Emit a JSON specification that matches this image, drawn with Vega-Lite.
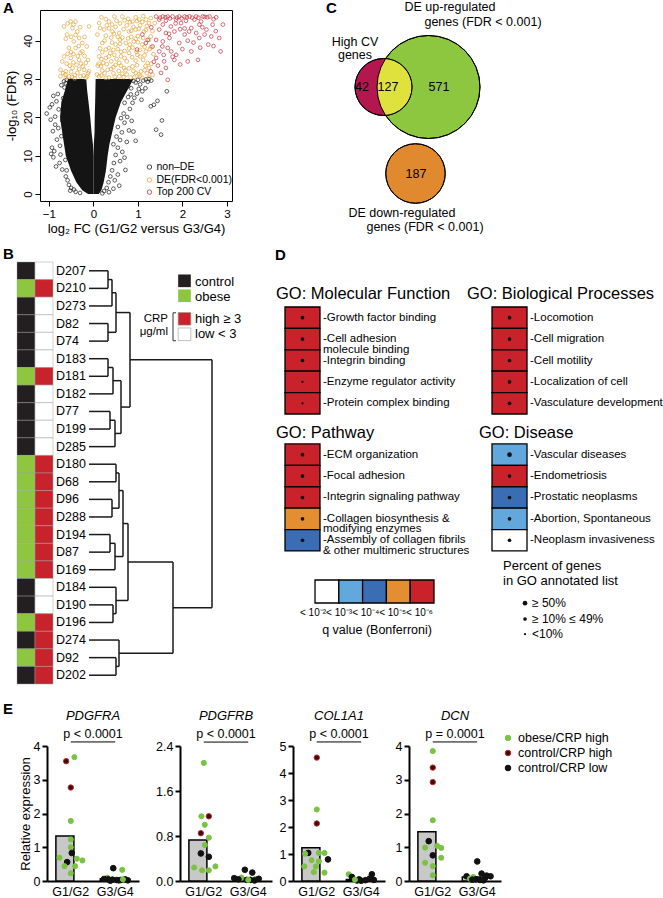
{
"$schema": "https://vega.github.io/schema/vega-lite/v6.json",
"background": "white",
"padding": {"left": 3, "top": 1, "right": 0, "bottom": 0},
"spacing": 10,
"config": {
 "view": {"stroke": null},
 "font": "Liberation Sans",
 "axis": {"grid": false, "labelOverlap": false, "labelColor": "#000", "titleColor": "#000", "domainColor": "#000", "tickColor": "#000", "titleFontWeight": "normal", "labelFont": "Liberation Sans", "titleFont": "Liberation Sans"},
 "text": {"font": "Liberation Sans", "color": "#000"},
 "title": {"font": "Liberation Sans", "subtitleFont": "Liberation Sans", "color": "#000", "subtitleColor": "#000"}
},
"resolve": {"scale": {"color": "independent", "fill": "independent", "stroke": "independent", "size": "independent"}},
"datasets": {
 "mass": [
  {"w":"L","y":0,"a":-0.12,"b":0},{"w":"L","y":1,"a":-0.25,"b":0},{"w":"L","y":3,"a":-0.38,"b":0},{"w":"L","y":6,"a":-0.5,"b":0},{"w":"L","y":10,"a":-0.62,"b":0},{"w":"L","y":13,"a":-0.66,"b":-0.01},{"w":"L","y":16,"a":-0.7,"b":-0.04},{"w":"L","y":20,"a":-0.75,"b":-0.07},{"w":"L","y":24,"a":-0.72,"b":-0.11},{"w":"L","y":27,"a":-0.64,"b":-0.14},{"w":"L","y":30,"a":-0.57,"b":-0.16},
  {"w":"R","y":0,"a":0,"b":0.12},{"w":"R","y":1,"a":0,"b":0.18},{"w":"R","y":3,"a":0,"b":0.23},{"w":"R","y":6,"a":0,"b":0.28},{"w":"R","y":10,"a":0,"b":0.32},{"w":"R","y":13,"a":0.01,"b":0.36},{"w":"R","y":16,"a":0.025,"b":0.42},{"w":"R","y":20,"a":0.03,"b":0.5},{"w":"R","y":24,"a":0.04,"b":0.62},{"w":"R","y":27,"a":0.045,"b":0.76},{"w":"R","y":30,"a":0.05,"b":0.9}
 ],
 "volc": [
  {"x":-1.05,"y":21,"g":"n"},{"x":-0.98,"y":22.6,"g":"n"},{"x":-0.96,"y":19.4,"g":"n"},{"x":-0.93,"y":23.4,"g":"n"},{"x":-0.9,"y":25.6,"g":"n"},{"x":-0.91,"y":16.4,"g":"n"},{"x":-0.93,"y":12.1,"g":"n"},{"x":-0.88,"y":11.2,"g":"n"},{"x":-0.9,"y":9.6,"g":"n"},{"x":-0.82,"y":14.2,"g":"n"},{"x":-0.86,"y":20.2,"g":"n"},{"x":-0.8,"y":26.1,"g":"n"},{"x":-0.76,"y":8.1,"g":"n"},{"x":-0.72,"y":28.4,"g":"n"},{"x":-0.7,"y":6.4,"g":"n"},{"x":-0.66,"y":29.4,"g":"n"},{"x":-0.62,"y":4.6,"g":"n"},{"x":-0.55,"y":2.4,"g":"n"},{"x":-0.5,"y":1.6,"g":"n"},{"x":-0.44,"y":1.2,"g":"n"},{"x":-0.86,"y":18.1,"g":"n"},{"x":-0.83,"y":24.2,"g":"n"},{"x":-0.79,"y":17.2,"g":"n"},{"x":-0.75,"y":12.6,"g":"n"},{"x":-0.78,"y":22.1,"g":"n"},{"x":-0.74,"y":10.3,"g":"n"},{"x":-0.72,"y":15.1,"g":"n"},{"x":-0.7,"y":19.2,"g":"n"},{"x":-0.68,"y":25,"g":"n"},{"x":-0.65,"y":27.8,"g":"n"},{"x":-0.63,"y":8.9,"g":"n"},{"x":-0.6,"y":6.2,"g":"n"},{"x":-0.58,"y":3.6,"g":"n"},{"x":-0.52,"y":0.9,"g":"n"},{"x":-0.4,"y":0.6,"g":"n"},{"x":-0.3,"y":0.3,"g":"n"},{"x":-0.6,"y":29.8,"g":"n"},{"x":-0.55,"y":28.5,"g":"n"},{"x":-0.95,"y":10.5,"g":"n"},{"x":-0.84,"y":7.2,"g":"n"},{"x":-0.5,"y":29.6,"g":"n"},{"x":-0.62,"y":28.9,"g":"n"},
  {"x":0.3,"y":27.2,"g":"n"},{"x":0.38,"y":28.3,"g":"n"},{"x":0.5,"y":29.6,"g":"n"},{"x":0.62,"y":28.6,"g":"n"},{"x":0.72,"y":29.2,"g":"n"},{"x":0.85,"y":27.6,"g":"n"},{"x":0.95,"y":29.1,"g":"n"},{"x":1.05,"y":28.6,"g":"n"},{"x":1.1,"y":26.8,"g":"n"},{"x":1.18,"y":29.9,"g":"n"},{"x":1.22,"y":29.3,"g":"n"},{"x":1.0,"y":29.8,"g":"n"},{"x":0.92,"y":25.1,"g":"n"},{"x":0.82,"y":22.2,"g":"n"},{"x":0.76,"y":20.1,"g":"n"},{"x":0.7,"y":18.6,"g":"n"},{"x":0.64,"y":16.1,"g":"n"},{"x":0.6,"y":14.1,"g":"n"},{"x":0.55,"y":12.1,"g":"n"},{"x":0.5,"y":10.2,"g":"n"},{"x":0.46,"y":8.1,"g":"n"},{"x":0.42,"y":6.2,"g":"n"},{"x":0.38,"y":4.6,"g":"n"},{"x":0.34,"y":3.1,"g":"n"},{"x":0.3,"y":1.6,"g":"n"},{"x":0.24,"y":0.8,"g":"n"},{"x":0.72,"y":6.3,"g":"n"},{"x":0.6,"y":8.6,"g":"n"},{"x":0.55,"y":5.1,"g":"n"},{"x":0.48,"y":3.6,"g":"n"},{"x":0.75,"y":13.6,"g":"n"},{"x":0.8,"y":16.6,"g":"n"},{"x":0.9,"y":16.3,"g":"n"},{"x":0.95,"y":13.9,"g":"n"},{"x":0.86,"y":19.1,"g":"n"},{"x":1.17,"y":27.6,"g":"n"},{"x":1.29,"y":22.9,"g":"n"},{"x":1.36,"y":23.3,"g":"n"},{"x":1.44,"y":24.3,"g":"n"},{"x":1.41,"y":16.8,"g":"n"},{"x":1.52,"y":15.5,"g":"n"},{"x":1.54,"y":19.2,"g":"n"},{"x":1.65,"y":26.8,"g":"n"},{"x":0.7,"y":23.8,"g":"n"},{"x":0.78,"y":25.3,"g":"n"},{"x":0.88,"y":23.8,"g":"n"},{"x":0.98,"y":26.2,"g":"n"},{"x":1.08,"y":24.6,"g":"n"},{"x":0.65,"y":11,"g":"n"},{"x":0.7,"y":9.5,"g":"n"},{"x":0.58,"y":2.2,"g":"n"},{"x":0.45,"y":1.4,"g":"n"},{"x":0.35,"y":0.5,"g":"n"},{"x":0.2,"y":0.2,"g":"n"},{"x":0.68,"y":21,"g":"n"},{"x":0.62,"y":19.8,"g":"n"},{"x":0.55,"y":17.5,"g":"n"},{"x":0.52,"y":15,"g":"n"},{"x":0.45,"y":13,"g":"n"},{"x":0.9,"y":29.5,"g":"n"},{"x":1.12,"y":29.6,"g":"n"},{"x":1.25,"y":30.0,"g":"n"},{"x":0.78,"y":28.1,"g":"n"},{"x":0.66,"y":27.4,"g":"n"},{"x":1.3,"y":29.6,"g":"n"},{"x":1.02,"y":27.4,"g":"n"},{"x":0.84,"y":26.0,"g":"n"},
  {"x":-0.66,"y":43.7,"g":"d"},{"x":-0.59,"y":41.6,"g":"d"},{"x":-0.51,"y":45,"g":"d"},{"x":-0.4,"y":45,"g":"d"},{"x":-0.36,"y":42.4,"g":"d"},{"x":-0.32,"y":40.7,"g":"d"},{"x":-0.55,"y":38.1,"g":"d"},{"x":-0.4,"y":38.1,"g":"d"},{"x":-0.25,"y":37.2,"g":"d"},{"x":-0.66,"y":35.9,"g":"d"},{"x":-0.51,"y":35.5,"g":"d"},{"x":-0.32,"y":35,"g":"d"},{"x":-0.74,"y":32.4,"g":"d"},{"x":-0.62,"y":32,"g":"d"},{"x":-0.47,"y":32.9,"g":"d"},{"x":-0.36,"y":31.6,"g":"d"},{"x":-0.21,"y":32.4,"g":"d"},{"x":-0.17,"y":34.2,"g":"d"},{"x":-0.25,"y":39.4,"g":"d"},{"x":-0.44,"y":39.8,"g":"d"},{"x":-0.29,"y":30.7,"g":"d"},{"x":-0.55,"y":30.7,"g":"d"},{"x":-0.74,"y":30.7,"g":"d"},{"x":-0.14,"y":30.7,"g":"d"},{"x":-0.47,"y":43.3,"g":"d"},{"x":-0.29,"y":36.8,"g":"d"},{"x":-0.38,"y":33.7,"g":"d"},{"x":-0.1,"y":32,"g":"d"},{"x":-0.17,"y":30.3,"g":"d"},{"x":-0.6,"y":34,"g":"d"},{"x":-0.45,"y":36.5,"g":"d"},{"x":-0.28,"y":34,"g":"d"},{"x":-0.2,"y":36,"g":"d"},{"x":-0.42,"y":31,"g":"d"},{"x":-0.63,"y":31.2,"g":"d"},{"x":-0.33,"y":38.6,"g":"d"},{"x":-0.5,"y":41,"g":"d"},{"x":-0.1,"y":43.7,"g":"d"},{"x":-0.12,"y":35,"g":"d"},
  {"x":-0.58,"y":44.5,"g":"d"},{"x":-0.45,"y":44.2,"g":"d"},{"x":-0.3,"y":43.5,"g":"d"},{"x":-0.62,"y":40.5,"g":"d"},{"x":-0.4,"y":41.5,"g":"d"},{"x":-0.2,"y":41,"g":"d"},{"x":-0.15,"y":38.5,"g":"d"},{"x":-0.5,"y":37,"g":"d"},{"x":-0.35,"y":36,"g":"d"},{"x":-0.58,"y":36.6,"g":"d"},{"x":-0.7,"y":34.6,"g":"d"},{"x":-0.45,"y":34.3,"g":"d"},{"x":-0.24,"y":33.3,"g":"d"},{"x":-0.53,"y":33.5,"g":"d"},{"x":-0.68,"y":31.5,"g":"d"},{"x":-0.5,"y":31.9,"g":"d"},{"x":-0.32,"y":32.6,"g":"d"},{"x":-0.22,"y":30.9,"g":"d"},{"x":-0.12,"y":31.5,"g":"d"},{"x":-0.62,"y":30.3,"g":"d"},{"x":-0.42,"y":30.2,"g":"d"},{"x":-0.48,"y":30.6,"g":"d"},
  {"x":0.13,"y":44.6,"g":"d"},{"x":0.35,"y":45,"g":"d"},{"x":0.47,"y":46.3,"g":"d"},{"x":0.65,"y":46.3,"g":"d"},{"x":0.88,"y":45,"g":"d"},{"x":1.03,"y":45.5,"g":"d"},{"x":1.18,"y":45.5,"g":"d"},{"x":1.29,"y":45.9,"g":"d"},{"x":0.24,"y":42.9,"g":"d"},{"x":0.43,"y":42.4,"g":"d"},{"x":0.58,"y":42,"g":"d"},{"x":0.8,"y":42.4,"g":"d"},{"x":0.95,"y":42.9,"g":"d"},{"x":1.14,"y":42.4,"g":"d"},{"x":1.29,"y":41.1,"g":"d"},{"x":0.2,"y":39.4,"g":"d"},{"x":0.35,"y":38.1,"g":"d"},{"x":0.5,"y":39,"g":"d"},{"x":0.73,"y":39.4,"g":"d"},{"x":0.91,"y":39.8,"g":"d"},{"x":1.1,"y":39,"g":"d"},{"x":0.13,"y":35.9,"g":"d"},{"x":0.28,"y":35.5,"g":"d"},{"x":0.47,"y":36.3,"g":"d"},{"x":0.62,"y":35.9,"g":"d"},{"x":0.8,"y":36.8,"g":"d"},{"x":0.99,"y":36.3,"g":"d"},{"x":1.18,"y":37.2,"g":"d"},{"x":0.17,"y":33.3,"g":"d"},{"x":0.32,"y":32.4,"g":"d"},{"x":0.5,"y":33.7,"g":"d"},{"x":0.69,"y":32.9,"g":"d"},{"x":0.88,"y":33.3,"g":"d"},{"x":1.07,"y":32,"g":"d"},{"x":1.25,"y":32.9,"g":"d"},{"x":0.13,"y":30.7,"g":"d"},{"x":0.35,"y":30.4,"g":"d"},{"x":0.58,"y":30.7,"g":"d"},{"x":0.84,"y":30.4,"g":"d"},{"x":1.1,"y":30.3,"g":"d"},{"x":1.33,"y":31.1,"g":"d"},{"x":0.09,"y":41.6,"g":"d"},{"x":0.6,"y":44.5,"g":"d"},{"x":0.75,"y":44,"g":"d"},{"x":0.9,"y":43.6,"g":"d"},{"x":1.05,"y":44,"g":"d"},{"x":1.2,"y":43.8,"g":"d"},{"x":0.4,"y":40.8,"g":"d"},{"x":0.65,"y":40.8,"g":"d"},{"x":0.85,"y":41,"g":"d"},{"x":1.0,"y":41.2,"g":"d"},{"x":0.28,"y":37.7,"g":"d"},{"x":0.55,"y":37.8,"g":"d"},{"x":0.7,"y":37.3,"g":"d"},{"x":0.88,"y":38.2,"g":"d"},{"x":1.05,"y":37.6,"g":"d"},{"x":0.22,"y":34.2,"g":"d"},{"x":0.4,"y":34.6,"g":"d"},{"x":0.58,"y":34.2,"g":"d"},{"x":0.75,"y":34.6,"g":"d"},{"x":0.95,"y":34.8,"g":"d"},{"x":1.12,"y":35,"g":"d"},{"x":0.25,"y":31.5,"g":"d"},{"x":0.45,"y":31.5,"g":"d"},{"x":0.65,"y":31.4,"g":"d"},{"x":0.75,"y":31.2,"g":"d"},{"x":0.95,"y":31.6,"g":"d"},{"x":1.2,"y":31.5,"g":"d"},{"x":0.1,"y":33.5,"g":"d"},{"x":0.08,"y":31.2,"g":"d"},{"x":0.3,"y":44,"g":"d"},{"x":1.12,"y":46.4,"g":"d"},{"x":0.95,"y":46.1,"g":"d"},{"x":0.38,"y":36.8,"g":"d"},{"x":0.15,"y":38,"g":"d"},{"x":1.22,"y":34.2,"g":"d"},{"x":1.3,"y":38.3,"g":"d"},{"x":1.38,"y":44.6,"g":"d"},{"x":1.25,"y":40.2,"g":"d"},{"x":0.55,"y":41,"g":"d"},{"x":0.78,"y":45.7,"g":"d"},
  {"x":0.18,"y":46.1,"g":"d"},{"x":0.28,"y":45.6,"g":"d"},{"x":0.42,"y":44.2,"g":"d"},{"x":0.52,"y":45.2,"g":"d"},{"x":0.7,"y":45.3,"g":"d"},{"x":0.82,"y":44.8,"g":"d"},{"x":0.98,"y":45.1,"g":"d"},{"x":1.1,"y":44.9,"g":"d"},{"x":1.25,"y":44.6,"g":"d"},{"x":0.15,"y":43.3,"g":"d"},{"x":0.35,"y":43.2,"g":"d"},{"x":0.5,"y":43.6,"g":"d"},{"x":0.68,"y":43,"g":"d"},{"x":0.85,"y":42.6,"g":"d"},{"x":1.02,"y":43.1,"g":"d"},{"x":1.18,"y":42.8,"g":"d"},{"x":0.28,"y":41.3,"g":"d"},{"x":0.46,"y":41.8,"g":"d"},{"x":0.6,"y":40.3,"g":"d"},{"x":0.78,"y":40.6,"g":"d"},{"x":0.95,"y":40.5,"g":"d"},{"x":1.12,"y":40.7,"g":"d"},{"x":0.25,"y":40,"g":"d"},{"x":0.42,"y":39.5,"g":"d"},{"x":0.6,"y":39.2,"g":"d"},{"x":0.82,"y":39,"g":"d"},{"x":1.0,"y":39.6,"g":"d"},{"x":1.15,"y":38.4,"g":"d"},{"x":0.2,"y":37,"g":"d"},{"x":0.45,"y":37.6,"g":"d"},{"x":0.62,"y":37.1,"g":"d"},{"x":0.8,"y":38,"g":"d"},{"x":0.97,"y":37.1,"g":"d"},{"x":1.15,"y":36.2,"g":"d"},{"x":0.18,"y":35.2,"g":"d"},{"x":0.35,"y":35.9,"g":"d"},{"x":0.52,"y":35.2,"g":"d"},{"x":0.7,"y":35.5,"g":"d"},{"x":0.87,"y":35.7,"g":"d"},{"x":1.05,"y":35.9,"g":"d"},{"x":0.12,"y":34,"g":"d"},{"x":0.3,"y":33.9,"g":"d"},{"x":0.45,"y":33.1,"g":"d"},{"x":0.62,"y":33.5,"g":"d"},{"x":0.8,"y":32.8,"g":"d"},{"x":0.98,"y":33.6,"g":"d"},{"x":1.17,"y":33.4,"g":"d"},{"x":0.2,"y":32.2,"g":"d"},{"x":0.4,"y":32.6,"g":"d"},{"x":0.57,"y":32.1,"g":"d"},{"x":0.72,"y":32.3,"g":"d"},{"x":0.9,"y":32.1,"g":"d"},{"x":1.02,"y":31.2,"g":"d"},{"x":1.15,"y":32.3,"g":"d"},{"x":0.18,"y":30.9,"g":"d"},{"x":0.28,"y":30.3,"g":"d"},{"x":0.48,"y":30.6,"g":"d"},{"x":0.68,"y":30.5,"g":"d"},{"x":0.92,"y":30.5,"g":"d"},{"x":1.05,"y":30.8,"g":"d"},{"x":1.25,"y":30.4,"g":"d"},{"x":1.3,"y":34,"g":"d"},{"x":1.35,"y":36.5,"g":"d"},{"x":1.27,"y":37.8,"g":"d"},{"x":1.33,"y":42.5,"g":"d"},
  {"x":1.41,"y":46.3,"g":"t"},{"x":1.56,"y":46.3,"g":"t"},{"x":1.67,"y":46.3,"g":"t"},{"x":1.78,"y":46.3,"g":"t"},{"x":1.93,"y":46.3,"g":"t"},{"x":2.05,"y":46.3,"g":"t"},{"x":2.16,"y":46.3,"g":"t"},{"x":2.31,"y":46.3,"g":"t"},{"x":2.46,"y":46.3,"g":"t"},{"x":2.61,"y":46.3,"g":"t"},{"x":2.76,"y":46.1,"g":"t"},{"x":1.48,"y":45.5,"g":"t"},{"x":1.63,"y":45.2,"g":"t"},{"x":1.86,"y":45.5,"g":"t"},{"x":2.08,"y":45.2,"g":"t"},{"x":2.27,"y":45.5,"g":"t"},{"x":2.42,"y":45,"g":"t"},{"x":1.56,"y":44.2,"g":"t"},{"x":1.74,"y":43.7,"g":"t"},{"x":1.97,"y":44.6,"g":"t"},{"x":2.2,"y":43.3,"g":"t"},{"x":2.38,"y":44.2,"g":"t"},{"x":2.68,"y":44.2,"g":"t"},{"x":2.91,"y":44.2,"g":"t"},{"x":1.48,"y":42.9,"g":"t"},{"x":1.63,"y":42,"g":"t"},{"x":1.82,"y":42.4,"g":"t"},{"x":2.05,"y":41.6,"g":"t"},{"x":2.31,"y":42,"g":"t"},{"x":2.54,"y":42.9,"g":"t"},{"x":2.83,"y":40.7,"g":"t"},{"x":1.41,"y":40.2,"g":"t"},{"x":1.56,"y":39.8,"g":"t"},{"x":1.71,"y":40.7,"g":"t"},{"x":1.93,"y":39.4,"g":"t"},{"x":2.12,"y":40,"g":"t"},{"x":2.38,"y":40.7,"g":"t"},{"x":2.65,"y":41.1,"g":"t"},{"x":1.33,"y":38.5,"g":"t"},{"x":1.48,"y":37.2,"g":"t"},{"x":1.67,"y":38.1,"g":"t"},{"x":1.86,"y":36.3,"g":"t"},{"x":2.2,"y":37.2,"g":"t"},{"x":2.58,"y":39,"g":"t"},{"x":2.86,"y":37.2,"g":"t"},{"x":1.41,"y":35.5,"g":"t"},{"x":1.59,"y":34.6,"g":"t"},{"x":1.82,"y":35,"g":"t"},{"x":2.12,"y":34.6,"g":"t"},{"x":1.63,"y":32.9,"g":"t"},{"x":1.29,"y":32,"g":"t"},{"x":1.52,"y":31.6,"g":"t"},{"x":1.67,"y":29.8,"g":"t"},{"x":1.78,"y":35.8,"g":"t"},{"x":1.18,"y":39.4,"g":"t"},{"x":1.1,"y":41.6,"g":"t"},{"x":1.22,"y":40.2,"g":"t"},{"x":1.3,"y":43.5,"g":"t"},{"x":1.72,"y":45.8,"g":"t"},{"x":1.98,"y":45.8,"g":"t"},{"x":2.22,"y":46,"g":"t"},{"x":2.5,"y":46.2,"g":"t"},{"x":1.85,"y":44.5,"g":"t"},{"x":2.05,"y":43.2,"g":"t"},{"x":2.45,"y":43.5,"g":"t"},{"x":1.7,"y":41.8,"g":"t"},{"x":2.25,"y":39.5,"g":"t"},{"x":1.36,"y":34.5,"g":"t"},{"x":2.35,"y":35,"g":"t"},{"x":0.98,"y":37.7,"g":"t"},
  {"x":1.5,"y":46.0,"g":"t"},{"x":1.62,"y":46.1,"g":"t"},{"x":1.88,"y":46.0,"g":"t"},{"x":2.1,"y":46.1,"g":"t"},{"x":2.36,"y":46.0,"g":"t"},{"x":2.56,"y":46.1,"g":"t"},{"x":2.7,"y":45.6,"g":"t"},{"x":1.95,"y":43,"g":"t"},{"x":2.15,"y":42.4,"g":"t"},{"x":2.5,"y":41.6,"g":"t"},{"x":2.75,"y":42.5,"g":"t"},{"x":1.55,"y":38.5,"g":"t"},{"x":1.75,"y":37.2,"g":"t"},{"x":2.0,"y":37.8,"g":"t"},{"x":2.4,"y":38.2,"g":"t"},{"x":1.45,"y":33.5,"g":"t"},{"x":1.95,"y":33.8,"g":"t"},{"x":1.58,"y":36.3,"g":"t"},{"x":2.7,"y":38.6,"g":"t"}
 ],
 "venn": [
  {"set":"up","n":698,"cx":12.85,"cy":7.7},
  {"set":"cv","n":169,"cx":8.35,"cy":7.7},
  {"set":"down","n":187,"cx":11.55,"cy":16.35}
 ],
 "vtext": [
  {"t":"42","x":6.2,"y":7.7},{"t":"127","x":8.8,"y":7.7},{"t":"571","x":13.9,"y":7.7},{"t":"187","x":11.6,"y":16.35},
  {"t":"DE up-regulated","x":15.0,"y":-0.3},{"t":"genes (FDR < 0.001)","x":18.3,"y":1.2},
  {"t":"High CV","x":5.5,"y":3.22},{"t":"genes","x":5.5,"y":4.48},
  {"t":"DE down-regulated","x":10.2,"y":20.3},{"t":"genes (FDR < 0.001)","x":12.5,"y":21.7}
 ],
 "samples": [
  {"id":"D207","i":0,"grp":"control","crp":"low"},{"id":"D210","i":1,"grp":"obese","crp":"high"},{"id":"D273","i":2,"grp":"control","crp":"low"},{"id":"D82","i":3,"grp":"control","crp":"low"},{"id":"D74","i":4,"grp":"control","crp":"low"},{"id":"D183","i":5,"grp":"control","crp":"low"},{"id":"D181","i":6,"grp":"obese","crp":"high"},{"id":"D182","i":7,"grp":"control","crp":"low"},{"id":"D77","i":8,"grp":"control","crp":"low"},{"id":"D199","i":9,"grp":"control","crp":"low"},{"id":"D285","i":10,"grp":"control","crp":"low"},{"id":"D180","i":11,"grp":"obese","crp":"high"},{"id":"D68","i":12,"grp":"obese","crp":"high"},{"id":"D96","i":13,"grp":"obese","crp":"high"},{"id":"D288","i":14,"grp":"obese","crp":"high"},{"id":"D194","i":15,"grp":"obese","crp":"high"},{"id":"D87","i":16,"grp":"obese","crp":"high"},{"id":"D169","i":17,"grp":"obese","crp":"high"},{"id":"D184","i":18,"grp":"control","crp":"low"},{"id":"D190","i":19,"grp":"control","crp":"low"},{"id":"D196","i":20,"grp":"obese","crp":"high"},{"id":"D274","i":21,"grp":"control","crp":"high"},{"id":"D92","i":22,"grp":"obese","crp":"high"},{"id":"D202","i":23,"grp":"control","crp":"high"}
 ],
 "dnodes": [
  {"h":91,"a":0,"b":1},{"h":95,"a":0.5,"b":2},{"h":91,"a":3,"b":4},{"h":99,"a":1.25,"b":3.5},{"h":91,"a":5,"b":6},{"h":96,"a":5.5,"b":7},{"h":93,"a":8,"b":9},{"h":98,"a":8.5,"b":10},{"h":104,"a":6.25,"b":9.25},{"h":113,"a":2.375,"b":7.75},
  {"h":99,"a":11,"b":12},{"h":95,"a":13,"b":14},{"h":102,"a":11.5,"b":13.5},{"h":93,"a":15,"b":16},{"h":98,"a":15.5,"b":17},{"h":106,"a":12.5,"b":16.25},{"h":96,"a":19,"b":20},{"h":99,"a":18,"b":19.5},{"h":111,"a":14.375,"b":18.75},{"h":99,"a":22,"b":23},{"h":102,"a":21,"b":22.5},{"h":156,"a":16.56,"b":21.75},{"h":195,"a":5.06,"b":19.16}
 ],
 "dedges": [
  {"c":72,"p":91,"y":0},{"c":72,"p":91,"y":1},{"c":72,"p":95,"y":2},{"c":72,"p":91,"y":3},{"c":72,"p":91,"y":4},{"c":72,"p":91,"y":5},{"c":72,"p":91,"y":6},{"c":72,"p":96,"y":7},{"c":72,"p":93,"y":8},{"c":72,"p":93,"y":9},{"c":72,"p":98,"y":10},{"c":72,"p":99,"y":11},{"c":72,"p":99,"y":12},{"c":72,"p":95,"y":13},{"c":72,"p":95,"y":14},{"c":72,"p":93,"y":15},{"c":72,"p":93,"y":16},{"c":72,"p":98,"y":17},{"c":72,"p":99,"y":18},{"c":72,"p":96,"y":19},{"c":72,"p":96,"y":20},{"c":72,"p":102,"y":21},{"c":72,"p":99,"y":22},{"c":72,"p":99,"y":23},
  {"c":91,"p":95,"y":0.5},{"c":91,"p":99,"y":3.5},{"c":95,"p":99,"y":1.25},{"c":91,"p":96,"y":5.5},{"c":93,"p":98,"y":8.5},{"c":96,"p":104,"y":6.25},{"c":98,"p":104,"y":9.25},{"c":99,"p":113,"y":2.375},{"c":104,"p":113,"y":7.75},{"c":113,"p":195,"y":5.06},
  {"c":99,"p":102,"y":11.5},{"c":95,"p":102,"y":13.5},{"c":93,"p":98,"y":15.5},{"c":102,"p":106,"y":12.5},{"c":98,"p":106,"y":16.25},{"c":96,"p":99,"y":19.5},{"c":106,"p":111,"y":14.375},{"c":99,"p":111,"y":18.75},{"c":99,"p":102,"y":22.5},{"c":111,"p":156,"y":16.56},{"c":102,"p":156,"y":21.75},{"c":156,"p":195,"y":19.16}
 ],
 "go": [
  {"panel":"MF","term":"-Growth factor binding","col":0,"slot":0,"q":"q6","pct":"m"},
  {"panel":"MF","term":"-Cell adhesion\n\u00a0\u00a0\u00a0\u00a0\u00a0molecule binding","col":0,"slot":1,"q":"q6","pct":"m"},
  {"panel":"MF","term":"-Integrin binding","col":0,"slot":2,"q":"q6","pct":"m"},
  {"panel":"MF","term":"-Enzyme regulator activity","col":0,"slot":3,"q":"q6","pct":"s"},
  {"panel":"MF","term":"-Protein complex binding","col":0,"slot":4,"q":"q6","pct":"s"},
  {"panel":"BP","term":"-Locomotion","col":1,"slot":0,"q":"q6","pct":"m"},
  {"panel":"BP","term":"-Cell migration","col":1,"slot":1,"q":"q6","pct":"m"},
  {"panel":"BP","term":"-Cell motility","col":1,"slot":2,"q":"q6","pct":"m"},
  {"panel":"BP","term":"-Localization of cell","col":1,"slot":3,"q":"q6","pct":"m"},
  {"panel":"BP","term":"-Vasculature development","col":1,"slot":4,"q":"q6","pct":"m"},
  {"panel":"PW","term":"-ECM organization","col":0,"slot":6.4,"q":"q6","pct":"m"},
  {"panel":"PW","term":"-Focal adhesion","col":0,"slot":7.4,"q":"q6","pct":"m"},
  {"panel":"PW","term":"-Integrin signaling pathway","col":0,"slot":8.4,"q":"q6","pct":"m"},
  {"panel":"PW","term":"-Collagen biosynthesis &\n\u00a0\u00a0\u00a0\u00a0modifying enzymes","col":0,"slot":9.4,"q":"q5","pct":"m"},
  {"panel":"PW","term":"-Assembly of collagen fibrils\n\u00a0\u00a0\u00a0& other multimeric structures","col":0,"slot":10.4,"q":"q4","pct":"m"},
  {"panel":"DS","term":"-Vascular diseases","col":1,"slot":6.4,"q":"q3","pct":"l"},
  {"panel":"DS","term":"-Endometriosis","col":1,"slot":7.4,"q":"q6","pct":"m"},
  {"panel":"DS","term":"-Prostatic neoplasms","col":1,"slot":8.4,"q":"q4","pct":"m"},
  {"panel":"DS","term":"-Abortion, Spontaneous","col":1,"slot":9.4,"q":"q3","pct":"m"},
  {"panel":"DS","term":"-Neoplasm invasiveness","col":1,"slot":10.4,"q":"q2","pct":"m"}
 ],
 "expr": [
  {"gene":"PDGFRA","grp":"G1/G2","cat":"h","v":3.55,"j":-0.33},{"gene":"PDGFRA","grp":"G1/G2","cat":"o","v":3.67,"j":0.26},{"gene":"PDGFRA","grp":"G1/G2","cat":"h","v":2.77,"j":0},{"gene":"PDGFRA","grp":"G1/G2","cat":"o","v":1.78,"j":0},{"gene":"PDGFRA","grp":"G1/G2","cat":"o","v":1.23,"j":0},{"gene":"PDGFRA","grp":"G1/G2","cat":"o","v":1.0,"j":0},{"gene":"PDGFRA","grp":"G1/G2","cat":"l","v":0.83,"j":0.07},{"gene":"PDGFRA","grp":"G1/G2","cat":"o","v":0.69,"j":-0.81},{"gene":"PDGFRA","grp":"G1/G2","cat":"o","v":0.66,"j":0.43},{"gene":"PDGFRA","grp":"G1/G2","cat":"o","v":0.61,"j":0.83},{"gene":"PDGFRA","grp":"G1/G2","cat":"l","v":0.56,"j":-0.26},{"gene":"PDGFRA","grp":"G1/G2","cat":"o","v":0.44,"j":-0.45},{"gene":"PDGFRA","grp":"G1/G2","cat":"o","v":0.44,"j":0.31},{"gene":"PDGFRA","grp":"G1/G2","cat":"o","v":0.23,"j":0},
  {"gene":"PDGFRA","grp":"G3/G4","cat":"l","v":0.38,"j":-0.14},{"gene":"PDGFRA","grp":"G3/G4","cat":"o","v":0.33,"j":0.5},{"gene":"PDGFRA","grp":"G3/G4","cat":"o","v":0.1,"j":-0.57},{"gene":"PDGFRA","grp":"G3/G4","cat":"l","v":0.06,"j":-0.8},{"gene":"PDGFRA","grp":"G3/G4","cat":"l","v":0.05,"j":-0.5},{"gene":"PDGFRA","grp":"G3/G4","cat":"l","v":0.04,"j":-0.2},{"gene":"PDGFRA","grp":"G3/G4","cat":"l","v":0.03,"j":0.1},{"gene":"PDGFRA","grp":"G3/G4","cat":"l","v":0.03,"j":0.4},{"gene":"PDGFRA","grp":"G3/G4","cat":"l","v":0.05,"j":0.7},{"gene":"PDGFRA","grp":"G3/G4","cat":"l","v":0.02,"j":0.9},{"gene":"PDGFRA","grp":"G3/G4","cat":"l","v":0.01,"j":-0.35},{"gene":"PDGFRA","grp":"G3/G4","cat":"l","v":0.02,"j":0.25},{"gene":"PDGFRA","grp":"G3/G4","cat":"o","v":0.05,"j":0.55},
  {"gene":"PDGFRB","grp":"G1/G2","cat":"o","v":2.1,"j":0},{"gene":"PDGFRB","grp":"G1/G2","cat":"o","v":1.15,"j":-0.17},{"gene":"PDGFRB","grp":"G1/G2","cat":"h","v":1.15,"j":0.36},{"gene":"PDGFRB","grp":"G1/G2","cat":"o","v":1.0,"j":0.07},{"gene":"PDGFRB","grp":"G1/G2","cat":"h","v":0.85,"j":-0.21},{"gene":"PDGFRB","grp":"G1/G2","cat":"o","v":0.77,"j":0.36},{"gene":"PDGFRB","grp":"G1/G2","cat":"o","v":0.64,"j":0.07},{"gene":"PDGFRB","grp":"G1/G2","cat":"l","v":0.49,"j":-0.21},{"gene":"PDGFRB","grp":"G1/G2","cat":"l","v":0.43,"j":0.36},{"gene":"PDGFRB","grp":"G1/G2","cat":"o","v":0.24,"j":-0.69},{"gene":"PDGFRB","grp":"G1/G2","cat":"o","v":0.26,"j":0.83},{"gene":"PDGFRB","grp":"G1/G2","cat":"o","v":0.19,"j":-0.12},{"gene":"PDGFRB","grp":"G1/G2","cat":"o","v":0.19,"j":0.36},
  {"gene":"PDGFRB","grp":"G3/G4","cat":"l","v":0.2,"j":-0.24},{"gene":"PDGFRB","grp":"G3/G4","cat":"l","v":0.15,"j":0.29},{"gene":"PDGFRB","grp":"G3/G4","cat":"o","v":0.06,"j":-0.48},{"gene":"PDGFRB","grp":"G3/G4","cat":"o","v":0.04,"j":0.52},{"gene":"PDGFRB","grp":"G3/G4","cat":"l","v":0.05,"j":-1.0},{"gene":"PDGFRB","grp":"G3/G4","cat":"l","v":0.03,"j":-0.7},{"gene":"PDGFRB","grp":"G3/G4","cat":"l","v":0.02,"j":-0.1},{"gene":"PDGFRB","grp":"G3/G4","cat":"l","v":0.02,"j":0.15},{"gene":"PDGFRB","grp":"G3/G4","cat":"l","v":0.04,"j":0.75},{"gene":"PDGFRB","grp":"G3/G4","cat":"l","v":0.01,"j":0.45},{"gene":"PDGFRB","grp":"G3/G4","cat":"o","v":0.02,"j":0},
  {"gene":"COL1A1","grp":"G1/G2","cat":"h","v":4.57,"j":0},{"gene":"COL1A1","grp":"G1/G2","cat":"o","v":2.65,"j":0},{"gene":"COL1A1","grp":"G1/G2","cat":"h","v":2.13,"j":0},{"gene":"COL1A1","grp":"G1/G2","cat":"l","v":1.04,"j":-0.61},{"gene":"COL1A1","grp":"G1/G2","cat":"l","v":0.8,"j":0.8},{"gene":"COL1A1","grp":"G1/G2","cat":"o","v":1.01,"j":-0.83},{"gene":"COL1A1","grp":"G1/G2","cat":"o","v":1.04,"j":0.15},{"gene":"COL1A1","grp":"G1/G2","cat":"o","v":1.04,"j":0.55},{"gene":"COL1A1","grp":"G1/G2","cat":"o","v":0.77,"j":-0.37},{"gene":"COL1A1","grp":"G1/G2","cat":"o","v":0.73,"j":0.15},{"gene":"COL1A1","grp":"G1/G2","cat":"o","v":0.54,"j":-0.89},{"gene":"COL1A1","grp":"G1/G2","cat":"o","v":0.54,"j":-0.06},{"gene":"COL1A1","grp":"G1/G2","cat":"o","v":0.33,"j":-0.21},{"gene":"COL1A1","grp":"G1/G2","cat":"o","v":0.31,"j":0.55},
  {"gene":"COL1A1","grp":"G3/G4","cat":"o","v":0.25,"j":-0.9},{"gene":"COL1A1","grp":"G3/G4","cat":"l","v":0.15,"j":-0.67},{"gene":"COL1A1","grp":"G3/G4","cat":"l","v":0.25,"j":0.76},{"gene":"COL1A1","grp":"G3/G4","cat":"l","v":0.09,"j":0.6},{"gene":"COL1A1","grp":"G3/G4","cat":"l","v":0.02,"j":-0.3},{"gene":"COL1A1","grp":"G3/G4","cat":"l","v":0.01,"j":0},{"gene":"COL1A1","grp":"G3/G4","cat":"l","v":0.03,"j":0.3},{"gene":"COL1A1","grp":"G3/G4","cat":"l","v":0.06,"j":-0.15},{"gene":"COL1A1","grp":"G3/G4","cat":"o","v":0.05,"j":-0.45},{"gene":"COL1A1","grp":"G3/G4","cat":"l","v":0.04,"j":0.9},
  {"gene":"DCN","grp":"G1/G2","cat":"o","v":3.85,"j":0},{"gene":"DCN","grp":"G1/G2","cat":"h","v":3.36,"j":0},{"gene":"DCN","grp":"G1/G2","cat":"h","v":2.93,"j":0},{"gene":"DCN","grp":"G1/G2","cat":"o","v":1.8,"j":0},{"gene":"DCN","grp":"G1/G2","cat":"l","v":1.18,"j":-0.29},{"gene":"DCN","grp":"G1/G2","cat":"o","v":0.99,"j":-0.55},{"gene":"DCN","grp":"G1/G2","cat":"o","v":1.04,"j":0.31},{"gene":"DCN","grp":"G1/G2","cat":"o","v":0.98,"j":0.6},{"gene":"DCN","grp":"G1/G2","cat":"l","v":0.76,"j":0},{"gene":"DCN","grp":"G1/G2","cat":"o","v":0.54,"j":-0.55},{"gene":"DCN","grp":"G1/G2","cat":"o","v":0.69,"j":0.6},{"gene":"DCN","grp":"G1/G2","cat":"o","v":0.44,"j":0},{"gene":"DCN","grp":"G1/G2","cat":"o","v":0.17,"j":0},
  {"gene":"DCN","grp":"G3/G4","cat":"l","v":0.58,"j":0},{"gene":"DCN","grp":"G3/G4","cat":"l","v":0.22,"j":0.31},{"gene":"DCN","grp":"G3/G4","cat":"l","v":0.16,"j":0.67},{"gene":"DCN","grp":"G3/G4","cat":"l","v":0.14,"j":-0.76},{"gene":"DCN","grp":"G3/G4","cat":"o","v":0.12,"j":-0.29},{"gene":"DCN","grp":"G3/G4","cat":"l","v":0.14,"j":0.95},{"gene":"DCN","grp":"G3/G4","cat":"o","v":0.07,"j":-0.52},{"gene":"DCN","grp":"G3/G4","cat":"l","v":0.05,"j":-0.1},{"gene":"DCN","grp":"G3/G4","cat":"l","v":0.03,"j":0.2},{"gene":"DCN","grp":"G3/G4","cat":"l","v":0.02,"j":0.45},{"gene":"DCN","grp":"G3/G4","cat":"l","v":0.04,"j":-0.35},{"gene":"DCN","grp":"G3/G4","cat":"l","v":0.08,"j":0.55}
 ],
 "means": [
  {"gene":"PDGFRA","grp":"G1/G2","m":1.33},{"gene":"PDGFRA","grp":"G3/G4","m":0.07},
  {"gene":"PDGFRB","grp":"G1/G2","m":0.73},{"gene":"PDGFRB","grp":"G3/G4","m":0.05},
  {"gene":"COL1A1","grp":"G1/G2","m":1.23},{"gene":"COL1A1","grp":"G3/G4","m":0.06},
  {"gene":"DCN","grp":"G1/G2","m":1.46},{"gene":"DCN","grp":"G3/G4","m":0.12}
 ],
 "sig": [
  {"gene":"PDGFRA","a":"G1/G2","b":"G3/G4","y":4.12},
  {"gene":"PDGFRB","a":"G1/G2","b":"G3/G4","y":2.47},
  {"gene":"COL1A1","a":"G1/G2","b":"G3/G4","y":5.15},
  {"gene":"DCN","a":"G1/G2","b":"G3/G4","y":4.12}
 ]
},
"vconcat": [
 {
  "hconcat": [
   {
    "width": 33, "height": 191,
    "data": {"values": [{"t": "A"}]},
    "mark": {"type": "text", "align": "left", "baseline": "middle", "fontSize": 15, "fontWeight": "bold"},
    "encoding": {
     "x": {"datum": 0, "type": "quantitative", "scale": {"domain": [0, 33], "nice": false, "zero": false}, "axis": null},
     "y": {"datum": 193, "type": "quantitative", "scale": {"domain": [0, 191], "nice": false, "zero": false}, "axis": null},
     "text": {"field": "t"}
    }
   },
   {
    "width": 192, "height": 191,
    "view": {"stroke": "#000", "strokeWidth": 1},
    "layer": [
     {
      "data": {"name": "mass"},
      "mark": {"type": "area", "orient": "horizontal", "color": "#141414"},
      "encoding": {
       "y": {"field": "y", "type": "quantitative", "scale": {"domain": [-1.8, 48], "nice": false, "zero": false},
             "axis": {"values": [0,10,20,30,40], "domain": false, "tickSize": 5, "labelAngle": 270, "labelAlign": "center", "labelBaseline": "bottom", "labelPadding": 2, "labelFontSize": 11.5, "title": "-log₁₀ (FDR)", "titleFontSize": 13, "titlePadding": 4}},
       "x": {"field": "a", "type": "quantitative", "stack": null, "scale": {"domain": [-1.2, 3.115], "nice": false, "zero": false},
             "axis": {"values": [-1,0,1,2,3], "domain": false, "tickSize": 5, "labelFontSize": 11.5, "labelPadding": 2, "title": "log₂ FC (G1/G2 versus G3/G4)", "titleFontSize": 13, "titlePadding": 3}},
       "x2": {"field": "b"},
       "detail": {"field": "w"}
      }
     },
     {
      "data": {"name": "volc"},
      "mark": {"type": "point", "filled": false, "size": 14, "strokeWidth": 0.7, "opacity": 1},
      "encoding": {
       "x": {"field": "x", "type": "quantitative"},
       "y": {"field": "y", "type": "quantitative"},
       "color": {"field": "g", "type": "nominal", "scale": {"domain": ["n","d","t"], "range": ["#1a1a1a","#e5a33b","#c9313d"]}, "legend": null}
      }
     },
     {
      "data": {"values": [{"x":1.26,"y":7.06,"g":"n","t":"non–DE"},{"x":1.26,"y":3.66,"g":"d","t":"DE(FDR<0.001)"},{"x":1.26,"y":0.52,"g":"t","t":"Top 200 CV"}]},
      "layer": [
       {"mark": {"type": "point", "filled": false, "size": 20, "strokeWidth": 0.8, "opacity": 1},
        "encoding": {"x": {"field": "x", "type": "quantitative"}, "y": {"field": "y", "type": "quantitative"},
                     "color": {"field": "g", "type": "nominal", "scale": {"domain": ["n","d","t"], "range": ["#1a1a1a","#e5a33b","#c9313d"]}, "legend": null}}},
       {"mark": {"type": "text", "align": "left", "baseline": "middle", "dx": 7, "fontSize": 10.5},
        "encoding": {"x": {"field": "x", "type": "quantitative"}, "y": {"field": "y", "type": "quantitative"}, "text": {"field": "t"}}}
      ]
     }
    ]
   },
   {"width": 60, "height": 191, "data": {"values": [{}]}, "mark": {"type": "text", "text": ""}, "encoding": {}},
   {
    "width": 260, "height": 227,
    "layer": [
     {
      "data": {"name": "venn"},
      "mark": {"type": "point", "shape": "circle", "filled": true, "opacity": 1, "stroke": "#000", "strokeWidth": 1},
      "encoding": {
       "x": {"field": "cx", "type": "quantitative", "scale": {"domain": [0, 26], "nice": false, "zero": false}, "axis": null},
       "y": {"field": "cy", "type": "quantitative", "scale": {"domain": [0, 22.7], "reverse": true, "nice": false, "zero": false}, "axis": null},
       "size": {"field": "n", "type": "quantitative", "scale": {"type": "pow", "exponent": 0.834, "domain": [0, 698], "range": [0, 10609]}, "legend": null},
       "fill": {"field": "set", "type": "nominal", "scale": {"domain": ["up","cv","down"], "range": ["#8dc63f","#b3174e","#e0892f"]}, "legend": null}
      }
     },
     {
      "data": {"values": [{"cx": 9.45, "cy": 7.7}]},
      "mark": {"type": "point", "shape": "M-0.3137,-0.9975L-0.044,-0.94L0.257,-0.766L0.48,-0.5L0.599,-0.174L0.599,0.174L0.48,0.5L0.257,0.766L-0.044,0.94L-0.3137,0.9975L-0.444,0.764L-0.553,0.468L-0.607,0.157L-0.607,-0.157L-0.553,-0.468L-0.444,-0.764Z", "filled": true, "fill": "#dfe23c", "opacity": 1, "size": 3249, "strokeWidth": 0},
      "encoding": {"x": {"field": "cx", "type": "quantitative"}, "y": {"field": "cy", "type": "quantitative"}}
     },
     {
      "data": {"name": "venn"},
      "mark": {"type": "point", "shape": "circle", "filled": false, "opacity": 1, "color": "#000", "strokeWidth": 1},
      "encoding": {
       "x": {"field": "cx", "type": "quantitative"},
       "y": {"field": "cy", "type": "quantitative"},
       "size": {"field": "n", "type": "quantitative", "scale": {"type": "pow", "exponent": 0.834, "domain": [0, 698], "range": [0, 10609]}, "legend": null}
      }
     },
     {
      "data": {"name": "vtext"},
      "mark": {"type": "text", "fontSize": 12.5, "align": "center", "baseline": "middle"},
      "encoding": {"x": {"field": "x", "type": "quantitative"}, "y": {"field": "y", "type": "quantitative"}, "text": {"field": "t"}}
     },
     {
      "data": {"values": [{"t": "C"}]},
      "mark": {"type": "text", "align": "left", "baseline": "middle", "fontSize": 15, "fontWeight": "bold"},
      "encoding": {"x": {"datum": 2.6, "type": "quantitative"}, "y": {"datum": -0.2, "type": "quantitative"}, "text": {"field": "t"}}
     }
    ]
   }
  ],
  "spacing": 4,
  "bounds": "flush",
  "resolve": {"scale": {"color": "independent", "fill": "independent", "stroke": "independent", "size": "independent"}}
 },
 {
  "hconcat": [
   {
    "width": 227, "height": 422,
    "layer": [
     {
      "data": {"name": "samples"},
      "mark": {"type": "point", "shape": "M-1,-0.977L1,-0.977L1,0.977L-1,0.977Z", "size": 324, "filled": true, "opacity": 1, "stroke": "#a0a0a0", "strokeWidth": 0.4},
      "encoding": {
       "x": {"datum": 9, "type": "quantitative", "scale": {"domain": [-14, 213], "nice": false, "zero": false}, "axis": null},
       "y": {"field": "i", "type": "quantitative", "scale": {"domain": [-0.5, 23.5], "reverse": true, "nice": false, "zero": false}, "axis": null},
       "color": {"field": "grp", "type": "nominal", "scale": {"domain": ["control","obese"], "range": ["#231f20","#8dc63f"]}, "legend": null}
      }
     },
     {
      "data": {"name": "samples"},
      "mark": {"type": "point", "shape": "M-1,-0.977L1,-0.977L1,0.977L-1,0.977Z", "size": 324, "filled": true, "opacity": 1, "stroke": "#a0a0a0", "strokeWidth": 0.5},
      "encoding": {
       "x": {"datum": 27, "type": "quantitative"},
       "y": {"field": "i", "type": "quantitative"},
       "fill": {"field": "crp", "type": "nominal", "scale": {"domain": ["high","low"], "range": ["#c8232c","#ffffff"]}, "legend": null}
      }
     },
     {
      "data": {"name": "samples"},
      "mark": {"type": "text", "align": "left", "baseline": "middle", "fontSize": 12.5},
      "encoding": {"x": {"datum": 39, "type": "quantitative"}, "y": {"field": "i", "type": "quantitative"}, "text": {"field": "id"}}
     },
     {
      "data": {"name": "dnodes"},
      "mark": {"type": "rule", "color": "#1a1a1a", "strokeWidth": 1.5},
      "encoding": {"x": {"field": "h", "type": "quantitative"}, "y": {"field": "a", "type": "quantitative"}, "y2": {"field": "b"}}
     },
     {
      "data": {"name": "dedges"},
      "mark": {"type": "rule", "color": "#1a1a1a", "strokeWidth": 1.5},
      "encoding": {"x": {"field": "c", "type": "quantitative"}, "x2": {"field": "p"}, "y": {"field": "y", "type": "quantitative"}}
     },
     {
      "data": {"values": [{"grp":"control","y":0.57},{"grp":"obese","y":1.42}]},
      "mark": {"type": "point", "shape": "square", "size": 160, "filled": true, "opacity": 1},
      "encoding": {"x": {"datum": 167.5, "type": "quantitative"}, "y": {"field": "y", "type": "quantitative"},
                   "color": {"field": "grp", "type": "nominal", "scale": {"domain": ["control","obese"], "range": ["#231f20","#8dc63f"]}, "legend": null}}
     },
     {
      "data": {"values": [{"crp":"high","y":2.73},{"crp":"low","y":3.61}]},
      "mark": {"type": "point", "shape": "square", "size": 160, "filled": true, "opacity": 1, "stroke": "#999", "strokeWidth": 0.6},
      "encoding": {"x": {"datum": 167.5, "type": "quantitative"}, "y": {"field": "y", "type": "quantitative"},
                   "fill": {"field": "crp", "type": "nominal", "scale": {"domain": ["high","low"], "range": ["#c8232c","#ffffff"]}, "legend": null}}
     },
     {
      "data": {"values": [{"t":"control","y":0.63},{"t":"obese","y":1.48},{"t":"high ≥ 3","y":2.73},{"t":"low < 3","y":3.58}]},
      "mark": {"type": "text", "align": "left", "baseline": "middle", "fontSize": 13},
      "encoding": {"x": {"datum": 178, "type": "quantitative"}, "y": {"field": "y", "type": "quantitative"}, "text": {"field": "t"}}
     },
     {
      "data": {"values": [{"t":"CRP","y":2.76},{"t":"μg/ml","y":3.48}]},
      "mark": {"type": "text", "align": "right", "baseline": "middle", "fontSize": 11.5},
      "encoding": {"x": {"datum": 151, "type": "quantitative"}, "y": {"field": "y", "type": "quantitative"}, "text": {"field": "t"}}
     },
     {
      "data": {"values": [{"x":156,"x2":156,"y":2.39,"y2":3.98},{"x":156,"x2":159,"y":2.39,"y2":2.39},{"x":156,"x2":159,"y":3.98,"y2":3.98}]},
      "mark": {"type": "rule", "color": "#333", "strokeWidth": 1},
      "encoding": {"x": {"field": "x", "type": "quantitative"}, "x2": {"field": "x2"}, "y": {"field": "y", "type": "quantitative"}, "y2": {"field": "y2"}}
     },
     {
      "data": {"values": [{"t": "B"}]},
      "mark": {"type": "text", "align": "left", "baseline": "middle", "fontSize": 15, "fontWeight": "bold"},
      "encoding": {"x": {"datum": -14, "type": "quantitative"}, "y": {"datum": -0.938, "type": "quantitative"}, "text": {"field": "t"}}
     }
    ]
   },
   {
    "width": 393, "height": 428.5,
    "layer": [
     {
      "data": {"name": "go"},
      "mark": {"type": "point", "shape": "M-1,-0.611L1,-0.611L1,0.611L-1,0.611Z", "size": 1225, "filled": true, "opacity": 1, "stroke": "#000", "strokeWidth": 1.3},
      "encoding": {
       "x": {"field": "col", "type": "quantitative", "scale": {"domain": [-0.157, 1.7415], "nice": false, "zero": false}, "axis": null},
       "y": {"field": "slot", "type": "quantitative", "scale": {"domain": [-2.6028, 17.42], "reverse": true, "nice": false, "zero": false}, "axis": null},
       "fill": {"field": "q", "type": "nominal", "scale": {"domain": ["q2","q3","q4","q5","q6"], "range": ["#ffffff","#62a8dd","#3a6db4","#e38e31","#c9222b"]}, "legend": null}
      }
     },
     {
      "data": {"name": "go"},
      "mark": {"type": "point", "shape": "circle", "filled": true, "opacity": 1, "color": "#111"},
      "encoding": {
       "x": {"field": "col", "type": "quantitative"},
       "y": {"field": "slot", "type": "quantitative"},
       "size": {"field": "pct", "type": "ordinal", "scale": {"domain": ["s","m","l"], "range": [5,22,72]}, "legend": null}
      }
     },
     {
      "data": {"name": "go"},
      "mark": {"type": "text", "align": "left", "baseline": "middle", "dx": 20.5, "fontSize": 11.5, "lineBreak": "\n", "lineHeight": 10.5},
      "encoding": {"x": {"field": "col", "type": "quantitative"}, "y": {"field": "slot", "type": "quantitative"}, "text": {"field": "term"}}
     },
     {
      "data": {"values": [{"t":"GO: Molecular Function","x":-0.128,"y":-1.107},{"t":"GO: Biological Processes","x":0.7947,"y":-1.107},{"t":"GO: Pathway","x":-0.128,"y":5.388},{"t":"GO: Disease","x":0.8527,"y":5.388}]},
      "mark": {"type": "text", "align": "left", "baseline": "middle", "fontSize": 16.5},
      "encoding": {"x": {"field": "x", "type": "quantitative"}, "y": {"field": "y", "type": "quantitative"}, "text": {"field": "t"}}
     },
     {
      "data": {"values": [{"q":"q2","lx":0.1179},{"q":"q3","lx":0.2329},{"q":"q4","lx":0.3478},{"q":"q5","lx":0.4628},{"q":"q6","lx":0.5778}]},
      "mark": {"type": "point", "shape": "M-1,-0.966L1,-0.966L1,0.966L-1,0.966Z", "size": 566, "filled": true, "opacity": 1, "stroke": "#000", "strokeWidth": 1.3},
      "encoding": {
       "x": {"field": "lx", "type": "quantitative"},
       "y": {"datum": 12.794, "type": "quantitative"},
       "fill": {"field": "q", "type": "nominal", "scale": {"domain": ["q2","q3","q4","q5","q6"], "range": ["#ffffff","#62a8dd","#3a6db4","#e38e31","#c9222b"]}, "legend": null}
      }
     },
     {
      "data": {"values": [{"t":"< 10⁻²< 10⁻³< 10⁻⁴< 10⁻⁵< 10⁻⁶","x":0.309,"y":13.8}]},
      "mark": {"type": "text", "align": "center", "baseline": "middle", "fontSize": 10},
      "encoding": {"x": {"field": "x", "type": "quantitative"}, "y": {"field": "y", "type": "quantitative"}, "text": {"field": "t"}}
     },
     {
      "data": {"values": [{"t":"q value (Bonferroni)","x":0.36,"y":14.59}]},
      "mark": {"type": "text", "align": "center", "baseline": "middle", "fontSize": 12.5},
      "encoding": {"x": {"field": "x", "type": "quantitative"}, "y": {"field": "y", "type": "quantitative"}, "text": {"field": "t"}}
     },
     {
      "data": {"values": [{"t":"Percent of genes","x":0.9686,"y":11.6},{"t":"in GO annotated list","x":0.9686,"y":12.3}]},
      "mark": {"type": "text", "align": "left", "baseline": "middle", "fontSize": 13},
      "encoding": {"x": {"field": "x", "type": "quantitative"}, "y": {"field": "y", "type": "quantitative"}, "text": {"field": "t"}}
     },
     {
      "data": {"values": [{"pct":"l","ly":13.34,"t":"≥ 50%"},{"pct":"m","ly":14.08,"t":"≥ 10% ≤ 49%"},{"pct":"s","ly":14.79,"t":"<10%"}]},
      "layer": [
       {"mark": {"type": "point", "shape": "circle", "filled": true, "opacity": 1, "color": "#111"},
        "encoding": {"x": {"datum": 1.0749, "type": "quantitative"}, "y": {"field": "ly", "type": "quantitative"},
                     "size": {"field": "pct", "type": "ordinal", "scale": {"domain": ["s","m","l"], "range": [5,22,72]}, "legend": null}}},
       {"mark": {"type": "text", "align": "left", "baseline": "middle", "dx": 7, "fontSize": 12},
        "encoding": {"x": {"datum": 1.0749, "type": "quantitative"}, "y": {"field": "ly", "type": "quantitative"}, "text": {"field": "t"}}}
      ]
     },
     {
      "data": {"values": [{"t": "D"}]},
      "mark": {"type": "text", "align": "left", "baseline": "middle", "fontSize": 15, "fontWeight": "bold"},
      "encoding": {"x": {"datum": -0.133, "type": "quantitative"}, "y": {"datum": -2.953, "type": "quantitative"}, "text": {"field": "t"}}
     }
    ]
   }
  ],
  "spacing": 40,
  "bounds": "flush",
  "resolve": {"scale": {"color": "independent", "fill": "independent", "stroke": "independent", "size": "independent"}}
 },
 {
  "hconcat": [
   {
    "width": 38, "height": 135,
    "data": {"values": [{"t": "E"}]},
    "mark": {"type": "text", "align": "left", "baseline": "middle", "fontSize": 15, "fontWeight": "bold"},
    "encoding": {
     "x": {"datum": 0, "type": "quantitative", "scale": {"domain": [0, 38], "nice": false, "zero": false}, "axis": null},
     "y": {"datum": 172, "type": "quantitative", "scale": {"domain": [0, 135], "nice": false, "zero": false}, "axis": null},
     "text": {"field": "t"}
    }
   },
   {
    "width": 92, "height": 135,
    "title": {"text": "PDGFRA", "subtitle": "p < 0.0001", "fontSize": 13, "fontStyle": "italic", "fontWeight": "normal", "subtitleFontSize": 12.5, "subtitlePadding": 5, "offset": 0, "anchor": "middle", "frame": "group"},
    "layer": [
     {"data": {"name": "means"}, "transform": [{"filter": "datum.gene === 'PDGFRA'"}],
      "mark": {"type": "bar", "fill": "#c8c8c8", "stroke": "#000", "strokeWidth": 1.5},
      "encoding": {
       "x": {"field": "grp", "type": "nominal", "scale": {"domain": ["G1/G2","G3/G4"], "paddingInner": 0.33, "paddingOuter": 0.2}, "axis": {"title": null, "domainWidth": 2, "ticks": false, "labelFontSize": 12.5, "labelPadding": 4, "labelAngle": 0}},
       "y": {"field": "m", "type": "quantitative", "scale": {"domain": [0, 4], "nice": false}, "axis": {"values": [0,1,2,3,4], "tickCount": 5, "format": "d", "labelOverlap": false, "domainWidth": 2, "tickWidth": 2, "tickSize": 5, "labelFontSize": 12.5, "labelPadding": 2, "title": "Relative expression", "titleFontSize": 13, "titlePadding": 1}}
      }},
     {"data": {"name": "expr"}, "transform": [{"filter": "datum.gene === 'PDGFRA'"}],
      "mark": {"type": "point", "filled": true, "opacity": 1, "strokeWidth": 1},
      "encoding": {
       "x": {"field": "grp", "type": "nominal"},
       "xOffset": {"field": "j", "type": "quantitative", "scale": {"domain": [-1, 1], "range": [0.9, 28.9]}},
       "y": {"field": "v", "type": "quantitative", "axis": {"values": [0,1,2,3,4], "tickCount": 5, "format": "d", "labelOverlap": false, "domainWidth": 2, "tickWidth": 2, "tickSize": 5, "labelFontSize": 12.5, "labelPadding": 2, "title": "Relative expression", "titleFontSize": 13, "titlePadding": 1}},
       "fill": {"field": "cat", "type": "nominal", "scale": {"domain": ["o","h","l"], "range": ["#7cc242","#3a0c0c","#111111"]}, "legend": null},
       "stroke": {"field": "cat", "type": "nominal", "scale": {"domain": ["o","h","l"], "range": ["#7cc242","#c3262c","#111111"]}, "legend": null},
       "size": {"field": "cat", "type": "ordinal", "scale": {"domain": ["o","h","l"], "range": [26,32,38]}, "legend": null}
      }},
     {"data": {"name": "sig"}, "transform": [{"filter": "datum.gene === 'PDGFRA'"}],
      "mark": {"type": "rule", "color": "#000", "strokeWidth": 1},
      "encoding": {"x": {"field": "a", "type": "nominal"}, "x2": {"field": "b"}, "y": {"field": "y", "type": "quantitative"}}}
    ]
   },
   {"width": 29, "height": 135, "data": {"values": [{}]}, "mark": {"type": "text", "text": ""}, "encoding": {}},
   {
    "width": 92, "height": 135,
    "title": {"text": "PDGFRB", "subtitle": "p < 0.0001", "fontSize": 13, "fontStyle": "italic", "fontWeight": "normal", "subtitleFontSize": 12.5, "subtitlePadding": 5, "offset": 0, "anchor": "middle", "frame": "group"},
    "layer": [
     {"data": {"name": "means"}, "transform": [{"filter": "datum.gene === 'PDGFRB'"}],
      "mark": {"type": "bar", "fill": "#c8c8c8", "stroke": "#000", "strokeWidth": 1.5},
      "encoding": {
       "x": {"field": "grp", "type": "nominal", "scale": {"domain": ["G1/G2","G3/G4"], "paddingInner": 0.33, "paddingOuter": 0.2}, "axis": {"title": null, "domainWidth": 2, "ticks": false, "labelFontSize": 12.5, "labelPadding": 4, "labelAngle": 0}},
       "y": {"field": "m", "type": "quantitative", "scale": {"domain": [0, 2.4], "nice": false}, "axis": {"values": [0,0.8,1.6,2.4], "format": ".1f", "labelOverlap": false, "domainWidth": 2, "tickWidth": 2, "tickSize": 5, "labelFontSize": 12.5, "labelPadding": 2, "title": null}}
      }},
     {"data": {"name": "expr"}, "transform": [{"filter": "datum.gene === 'PDGFRB'"}],
      "mark": {"type": "point", "filled": true, "opacity": 1, "strokeWidth": 1},
      "encoding": {
       "x": {"field": "grp", "type": "nominal"},
       "xOffset": {"field": "j", "type": "quantitative", "scale": {"domain": [-1, 1], "range": [0.9, 28.9]}},
       "y": {"field": "v", "type": "quantitative"},
       "fill": {"field": "cat", "type": "nominal", "scale": {"domain": ["o","h","l"], "range": ["#7cc242","#3a0c0c","#111111"]}, "legend": null},
       "stroke": {"field": "cat", "type": "nominal", "scale": {"domain": ["o","h","l"], "range": ["#7cc242","#c3262c","#111111"]}, "legend": null},
       "size": {"field": "cat", "type": "ordinal", "scale": {"domain": ["o","h","l"], "range": [26,32,38]}, "legend": null}
      }},
     {"data": {"name": "sig"}, "transform": [{"filter": "datum.gene === 'PDGFRB'"}],
      "mark": {"type": "rule", "color": "#000", "strokeWidth": 1},
      "encoding": {"x": {"field": "a", "type": "nominal"}, "x2": {"field": "b"}, "y": {"field": "y", "type": "quantitative"}}}
    ]
   },
   {"width": 9, "height": 135, "data": {"values": [{}]}, "mark": {"type": "text", "text": ""}, "encoding": {}},
   {
    "width": 92, "height": 135,
    "title": {"text": "COL1A1", "subtitle": "p < 0.0001", "fontSize": 13, "fontStyle": "italic", "fontWeight": "normal", "subtitleFontSize": 12.5, "subtitlePadding": 5, "offset": 0, "anchor": "middle", "frame": "group"},
    "layer": [
     {"data": {"name": "means"}, "transform": [{"filter": "datum.gene === 'COL1A1'"}],
      "mark": {"type": "bar", "fill": "#c8c8c8", "stroke": "#000", "strokeWidth": 1.5},
      "encoding": {
       "x": {"field": "grp", "type": "nominal", "scale": {"domain": ["G1/G2","G3/G4"], "paddingInner": 0.33, "paddingOuter": 0.2}, "axis": {"title": null, "domainWidth": 2, "ticks": false, "labelFontSize": 12.5, "labelPadding": 4, "labelAngle": 0}},
       "y": {"field": "m", "type": "quantitative", "scale": {"domain": [0, 5], "nice": false}, "axis": {"values": [0,1,2,3,4,5], "tickCount": 6, "format": "d", "labelOverlap": false, "domainWidth": 2, "tickWidth": 2, "tickSize": 5, "labelFontSize": 12.5, "labelPadding": 2, "title": null}}
      }},
     {"data": {"name": "expr"}, "transform": [{"filter": "datum.gene === 'COL1A1'"}],
      "mark": {"type": "point", "filled": true, "opacity": 1, "strokeWidth": 1},
      "encoding": {
       "x": {"field": "grp", "type": "nominal"},
       "xOffset": {"field": "j", "type": "quantitative", "scale": {"domain": [-1, 1], "range": [0.9, 28.9]}},
       "y": {"field": "v", "type": "quantitative", "axis": {"values": [0,1,2,3,4,5], "tickCount": 6, "format": "d", "labelOverlap": false, "domainWidth": 2, "tickWidth": 2, "tickSize": 5, "labelFontSize": 12.5, "labelPadding": 2, "title": null}},
       "fill": {"field": "cat", "type": "nominal", "scale": {"domain": ["o","h","l"], "range": ["#7cc242","#3a0c0c","#111111"]}, "legend": null},
       "stroke": {"field": "cat", "type": "nominal", "scale": {"domain": ["o","h","l"], "range": ["#7cc242","#c3262c","#111111"]}, "legend": null},
       "size": {"field": "cat", "type": "ordinal", "scale": {"domain": ["o","h","l"], "range": [26,32,38]}, "legend": null}
      }},
     {"data": {"name": "sig"}, "transform": [{"filter": "datum.gene === 'COL1A1'"}],
      "mark": {"type": "rule", "color": "#000", "strokeWidth": 1},
      "encoding": {"x": {"field": "a", "type": "nominal"}, "x2": {"field": "b"}, "y": {"field": "y", "type": "quantitative"}}}
    ]
   },
   {"width": 12, "height": 135, "data": {"values": [{}]}, "mark": {"type": "text", "text": ""}, "encoding": {}},
   {
    "width": 92, "height": 135,
    "title": {"text": "DCN", "subtitle": "p = 0.0001", "fontSize": 13, "fontStyle": "italic", "fontWeight": "normal", "subtitleFontSize": 12.5, "subtitlePadding": 5, "offset": 0, "anchor": "middle", "frame": "group"},
    "layer": [
     {"data": {"name": "means"}, "transform": [{"filter": "datum.gene === 'DCN'"}],
      "mark": {"type": "bar", "fill": "#c8c8c8", "stroke": "#000", "strokeWidth": 1.5},
      "encoding": {
       "x": {"field": "grp", "type": "nominal", "scale": {"domain": ["G1/G2","G3/G4"], "paddingInner": 0.33, "paddingOuter": 0.2}, "axis": {"title": null, "domainWidth": 2, "ticks": false, "labelFontSize": 12.5, "labelPadding": 4, "labelAngle": 0}},
       "y": {"field": "m", "type": "quantitative", "scale": {"domain": [0, 4], "nice": false}, "axis": {"values": [0,1,2,3,4], "tickCount": 5, "format": "d", "labelOverlap": false, "domainWidth": 2, "tickWidth": 2, "tickSize": 5, "labelFontSize": 12.5, "labelPadding": 2, "title": null}}
      }},
     {"data": {"name": "expr"}, "transform": [{"filter": "datum.gene === 'DCN'"}],
      "mark": {"type": "point", "filled": true, "opacity": 1, "strokeWidth": 1},
      "encoding": {
       "x": {"field": "grp", "type": "nominal"},
       "xOffset": {"field": "j", "type": "quantitative", "scale": {"domain": [-1, 1], "range": [0.9, 28.9]}},
       "y": {"field": "v", "type": "quantitative", "axis": {"values": [0,1,2,3,4], "tickCount": 5, "format": "d", "labelOverlap": false, "domainWidth": 2, "tickWidth": 2, "tickSize": 5, "labelFontSize": 12.5, "labelPadding": 2, "title": null}},
       "fill": {"field": "cat", "type": "nominal", "scale": {"domain": ["o","h","l"], "range": ["#7cc242","#3a0c0c","#111111"]}, "legend": null},
       "stroke": {"field": "cat", "type": "nominal", "scale": {"domain": ["o","h","l"], "range": ["#7cc242","#c3262c","#111111"]}, "legend": null},
       "size": {"field": "cat", "type": "ordinal", "scale": {"domain": ["o","h","l"], "range": [26,32,38]}, "legend": null}
      }},
     {"data": {"name": "sig"}, "transform": [{"filter": "datum.gene === 'DCN'"}],
      "mark": {"type": "rule", "color": "#000", "strokeWidth": 1},
      "encoding": {"x": {"field": "a", "type": "nominal"}, "x2": {"field": "b"}, "y": {"field": "y", "type": "quantitative"}}}
    ]
   },
   {
    "width": 150, "height": 135,
    "data": {"values": [{"cat":"o","t":"obese/CRP high","r":0},{"cat":"h","t":"control/CRP high","r":1},{"cat":"l","t":"control/CRP low","r":2}]},
    "layer": [
     {"mark": {"type": "point", "filled": true, "opacity": 1, "strokeWidth": 1},
      "encoding": {
       "x": {"datum": 1, "type": "quantitative", "scale": {"domain": [0, 150], "nice": false, "zero": false}, "axis": null},
       "y": {"field": "r", "type": "quantitative", "scale": {"domain": [0.533, 9.533], "reverse": true, "nice": false, "zero": false}, "axis": null},
       "fill": {"field": "cat", "type": "nominal", "scale": {"domain": ["o","h","l"], "range": ["#7cc242","#3a0c0c","#111111"]}, "legend": null},
       "stroke": {"field": "cat", "type": "nominal", "scale": {"domain": ["o","h","l"], "range": ["#7cc242","#c3262c","#111111"]}, "legend": null},
       "size": {"field": "cat", "type": "ordinal", "scale": {"domain": ["o","h","l"], "range": [30,32,42]}, "legend": null}
      }},
     {"mark": {"type": "text", "align": "left", "baseline": "middle", "dx": 10, "fontSize": 12.5},
      "encoding": {"x": {"datum": 1, "type": "quantitative"}, "y": {"field": "r", "type": "quantitative"}, "text": {"field": "t"}}}
    ]
   }
  ],
  "spacing": 6,
  "bounds": "flush",
  "resolve": {"scale": {"color": "independent", "fill": "independent", "stroke": "independent", "size": "independent"}}
 }
]
}
